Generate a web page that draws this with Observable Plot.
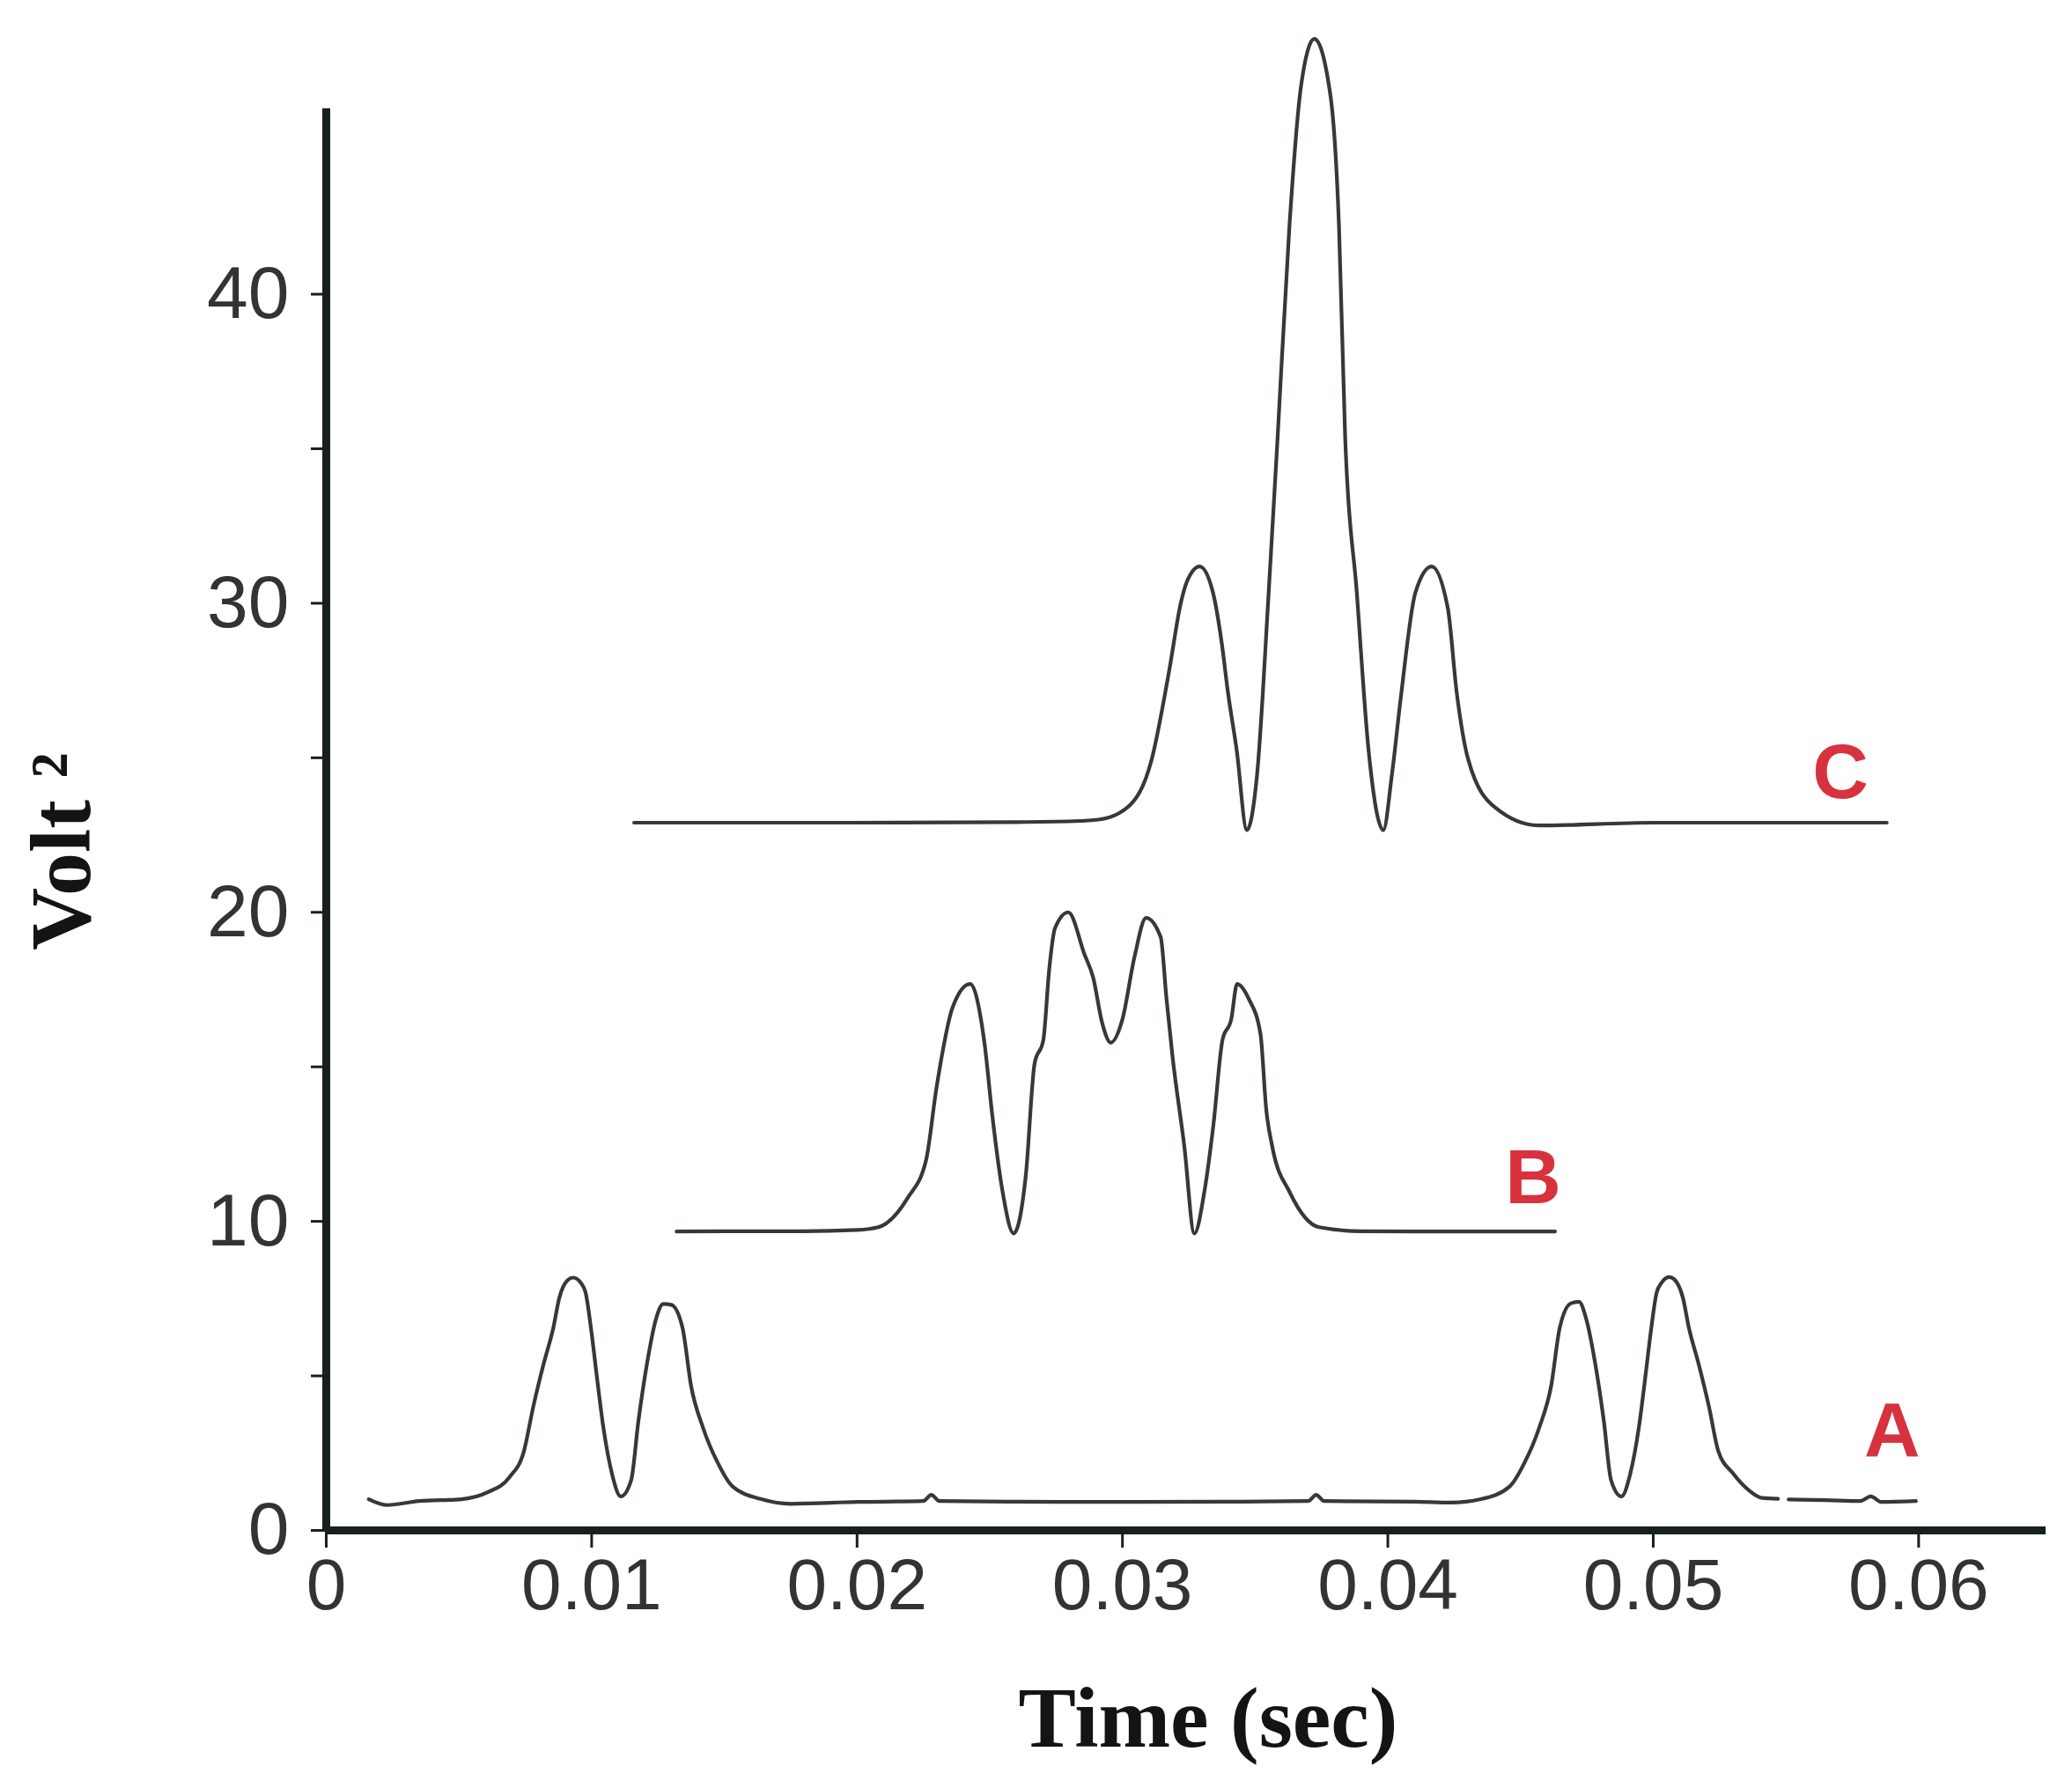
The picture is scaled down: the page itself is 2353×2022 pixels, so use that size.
<!DOCTYPE html>
<html>
<head>
<meta charset="utf-8">
<script src="https://cdn.jsdelivr.net/npm/d3@7"></script>
<script src="https://cdn.jsdelivr.net/npm/@observablehq/plot@0.6"></script>
<style>
  html, body { margin: 0; padding: 0; background: #ffffff; }
  #chart svg { display: block; }
</style>
</head>
<body>
<div id="chart"></div>
<script>
// ---- Data (time in s, power in Volt²) ----
const seriesA = [
  [0.0016, 1.01], [0.0023, 0.82], [0.0035, 0.95], [0.0051, 1.01], [0.0061, 1.24],
  [0.0069, 1.72], [0.00745, 2.57], [0.0078, 4.0], [0.0082, 5.42], [0.00856, 6.57],
  [0.00878, 7.52], [0.0091, 8.1], [0.0093, 8.18], [0.0096, 8.0], [0.00977, 7.7],
  [0.0100, 6.37], [0.0102, 4.95], [0.01044, 3.34], [0.01077, 1.82], [0.0111, 1.1],
  [0.01149, 1.63], [0.01176, 3.53], [0.01209, 5.42], [0.01243, 6.86], [0.0127, 7.33],
  [0.0130, 7.3], [0.01342, 6.57], [0.01375, 4.66], [0.01419, 3.34], [0.01475, 2.19],
  [0.0153, 1.43], [0.0164, 1.01], [0.0175, 0.86], [0.0200, 0.92], [0.0225, 0.95],
  [0.0228, 1.15], [0.0231, 0.95], [0.0260, 0.93], [0.0300, 0.92], [0.0340, 0.93],
  [0.0370, 0.95], [0.0373, 1.15], [0.0376, 0.95], [0.0410, 0.93], [0.0424, 0.9],
  [0.0435, 1.01], [0.0446, 1.43], [0.04515, 2.19], [0.04571, 3.34], [0.04615, 4.66],
  [0.04648, 6.57], [0.0469, 7.35], [0.0472, 7.4], [0.04747, 6.86], [0.04781, 5.42],
  [0.04814, 3.53], [0.04841, 1.63], [0.0488, 1.1], [0.04913, 1.82], [0.04946, 3.34],
  [0.0497, 4.95], [0.0499, 6.37], [0.05013, 7.7], [0.0503, 8.0], [0.0506, 8.2],
  [0.0508, 8.12], [0.05112, 7.52], [0.05134, 6.57], [0.0517, 5.42], [0.0521, 4.0],
  [0.05245, 2.57], [0.0530, 1.85], [0.0536, 1.3], [0.0541, 1.05], [0.0547, 1.02],
  [0.0549, NaN],
  [0.0551, 1.0], [0.0565, 0.98], [0.0578, 0.95], [0.0582, 1.1], [0.0586, 0.92],
  [0.0599, 0.95]
];
const seriesB = [
  [0.0132, 9.67], [0.0150, 9.68], [0.0180, 9.68], [0.0200, 9.72], [0.0208, 9.81],
  [0.0219, 10.75], [0.0226, 11.98], [0.0230, 14.36], [0.0236, 16.92], [0.02426, 17.68],
  [0.0248, 15.78], [0.0251, 13.4], [0.02547, 11.03], [0.0259, 9.61], [0.02636, 11.5],
  [0.02669, 15.11], [0.02702, 15.87], [0.02724, 18.15], [0.02746, 19.49], [0.02796, 20.0],
  [0.02857, 18.64], [0.0289, 17.88], [0.02923, 16.44], [0.02956, 15.78], [0.0300, 16.54],
  [0.03045, 18.54], [0.03089, 19.82], [0.03144, 19.2], [0.03166, 17.2], [0.03189, 15.31],
  [0.03233, 12.44], [0.03271, 9.61], [0.0331, 11.03], [0.03343, 13.14], [0.03377, 15.87],
  [0.0341, 16.54], [0.03432, 17.68], [0.03476, 17.2], [0.0352, 16.07], [0.03542, 13.6],
  [0.03564, 12.44], [0.03631, 10.93], [0.03741, 9.81], [0.0390, 9.68], [0.0420, 9.67],
  [0.0450, 9.67], [0.0463, 9.67]
];
const seriesC = [
  [0.0116, 22.9], [0.0200, 22.9], [0.0260, 22.92], [0.0282, 22.95], [0.0291, 23.0],
  [0.0302, 23.4], [0.0311, 24.94], [0.03176, 27.81], [0.0322, 30.01], [0.03242, 30.68],
  [0.03291, 31.19], [0.03341, 30.35], [0.03375, 28.66], [0.03397, 27.15], [0.0343, 25.28],
  [0.03469, 22.66], [0.03507, 24.43], [0.03551, 30.35], [0.03585, 35.42], [0.03629, 42.18],
  [0.03673, 46.74], [0.03723, 48.26], [0.03784, 46.41], [0.03816, 42.18], [0.03839, 35.42],
  [0.03883, 30.35], [0.03927, 25.28], [0.03983, 22.66], [0.04015, 24.43], [0.04049, 26.96],
  [0.04104, 30.35], [0.04165, 31.19], [0.04226, 29.84], [0.04259, 27.15], [0.04303, 24.94],
  [0.04403, 23.4], [0.04568, 22.81], [0.0500, 22.9], [0.0550, 22.9], [0.0588, 22.9]
];

// Series labels and their anchor points (data units)
const labelNames = ["A", "B", "C"];
const labelTime  = [0.0590, 0.04547, 0.05705];
const labelVolt  = [3.2, 11.4, 24.5];

// Axis ticks
const xTicks = [0, 0.01, 0.02, 0.03, 0.04, 0.05, 0.06];
const xTickLabels = ["0", "0.01", "0.02", "0.03", "0.04", "0.05", "0.06"];
const yMajorTicks = [0, 10, 20, 30, 40];
const yMinorTicks = [5, 15, 25, 35];

// ---- Build tables ----
const toRows = (name, arr) => arr.map(([t, v]) => ({series: name, t, v}));
const curves = [
  ...toRows("A", seriesA),
  ...toRows("B", seriesB),
  ...toRows("C", seriesC)
];
const labels = labelNames.map((name, i) => ({name, t: labelTime[i], v: labelVolt[i]}));

const lineColor = "#343a36";
const axisColor = "#17211c";
const sans = "'Liberation Sans', Arial, Helvetica, sans-serif";
const serif = "'Liberation Serif', 'Times New Roman', Times, serif";

const chart = Plot.plot({
  width: 2353,
  height: 2022,
  marginLeft: 370,
  marginRight: 30,
  marginTop: 123,
  marginBottom: 285,
  x: {domain: [0, 0.0648]},
  y: {domain: [0, 46]},
  style: {background: "#ffffff", fontFamily: sans, color: "#333333"},
  marks: [
    Plot.line(curves, {x: "t", y: "v", z: "series", stroke: lineColor, strokeWidth: 4.2, curve: "monotone-x"}),
    Plot.ruleX([0], {y1: 0, y2: 46, stroke: axisColor, strokeWidth: 9}),
    Plot.ruleY([0], {x1: 0, x2: 0.0648, stroke: axisColor, strokeWidth: 9}),
    Plot.axisX({
      ticks: xTicks, tickSize: 20, tickPadding: 11, fontSize: 82,
      tickFormat: (d, i) => xTickLabels[i], label: null, stroke: axisColor, strokeWidth: 3,
      fill: "#333333"
    }),
    Plot.axisY({
      ticks: yMajorTicks, tickSize: 17, tickPadding: 25, fontSize: 84,
      tickFormat: d => String(d), label: null, stroke: axisColor, strokeWidth: 3,
      fill: "#333333"
    }),
    Plot.axisY({
      ticks: yMinorTicks, tickSize: 17, tickFormat: () => "", label: null,
      stroke: axisColor, strokeWidth: 3
    }),
    Plot.text(labels, {
      x: "t", y: "v", text: "name", fill: "#d7323d", fontSize: 88,
      fontWeight: "bold", fontFamily: sans, textAnchor: "middle", lineAnchor: "middle"
    }),
    Plot.text(["Time (sec)"], {
      frameAnchor: "bottom", dx: 25, dy: 245, lineAnchor: "bottom",
      fontFamily: serif, fontWeight: "bold", fontSize: 98, fill: "#141414"
    }),
    Plot.text(["Volt ²"], {
      frameAnchor: "left", dx: -300, dy: 36, rotate: -90, lineAnchor: "middle",
      textAnchor: "middle", fontFamily: serif, fontWeight: "bold", fontSize: 98, fill: "#141414"
    })
  ]
});

document.getElementById("chart").appendChild(chart);
</script>
</body>
</html>
